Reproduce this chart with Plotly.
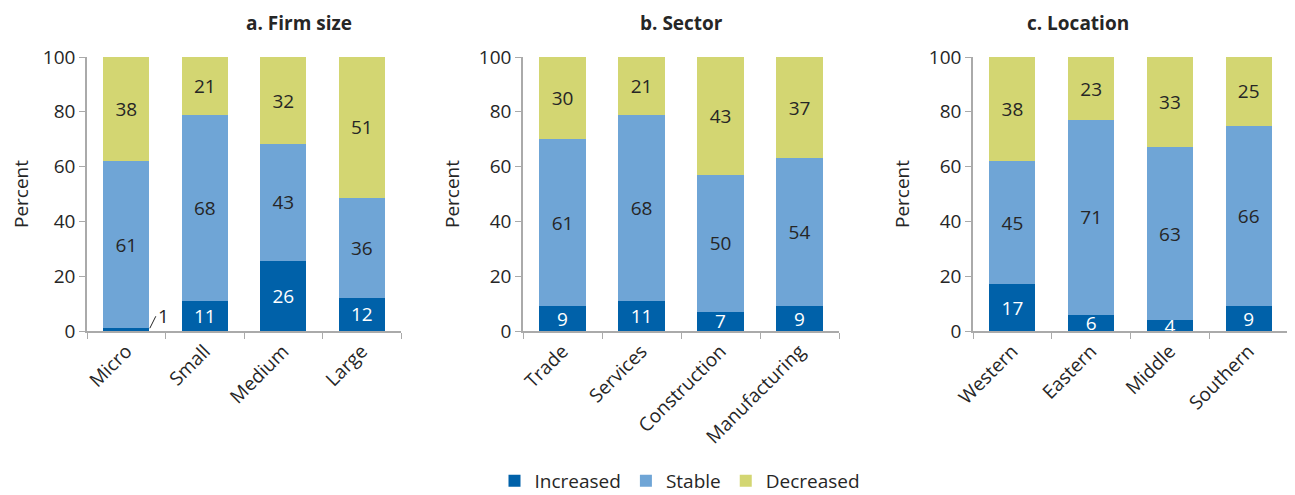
import plotly.graph_objects as go
from plotly.subplots import make_subplots

panel_titles = ["a. Firm size", "b. Sector", "c. Location"]
size_cats = ["Micro", "Small", "Medium", "Large"]
size_inc = [1, 11, 25.6, 12.2]
size_sta = [61, 68, 42.6, 36.4]
size_dec = [38, 21, 31.8, 51.4]

sector_cats = ["Trade", "Services", "Construction", "Manufacturing"]
sector_inc = [9, 11, 7, 9]
sector_sta = [61, 68, 50, 54]
sector_dec = [30, 21, 43, 37]

loc_cats = ["Western", "Eastern", "Middle", "Southern"]
loc_inc = [17, 6, 4, 9]
loc_sta = [45, 71, 63, 66]
loc_dec = [38, 23, 33, 25]

series_names = ["Increased", "Stable", "Decreased"]
colors = ["#0061a9", "#6fa5d6", "#d3d672"]
text_colors = ["white", "#262626", "#262626"]
y_ticks = [0, 20, 40, 60, 80, 100]

FONT = "Open Sans"
FS = 19
W, H = 1295, 495
OFF = 8  # page body margin
panels = [
    (size_cats, [size_inc, size_sta, size_dec]),
    (sector_cats, [sector_inc, sector_sta, sector_dec]),
    (loc_cats, [loc_inc, loc_sta, loc_dec]),
]

fig = make_subplots(rows=1, cols=3)

for p, (cats, series) in enumerate(panels):
    for s, vals in enumerate(series):
        labels = [f"{v:.0f}" for v in vals]
        if p == 0 and s == 0:
            labels[0] = ""  # tiny value labelled outside with leader line
        fig.add_trace(
            go.Bar(
                x=cats, y=vals, name=series_names[s],
                marker=dict(color=colors[s], line=dict(width=0)),
                text=labels, textposition="inside", insidetextanchor="middle",
                textangle=0, textfont=dict(color=text_colors[s], size=FS, family=FONT),
                showlegend=(p == 0), legendgroup=series_names[s],
                hoverinfo="skip",
            ),
            row=1, col=p + 1,
        )

px_x = [(87, 401), (523, 839), (973, 1288)]
domains_x = [((a - OFF) / W, (b - OFF) / W) for a, b in px_x]
ydom = (1 - (331 - OFF) / H, 1 - (57 - OFF) / H)
for i in range(3):
    xa = "xaxis" if i == 0 else f"xaxis{i+1}"
    ya = "yaxis" if i == 0 else f"yaxis{i+1}"
    fig.layout[xa].update(
        domain=domains_x[i], showline=True, linecolor="#aaaaaa", linewidth=1.5,
        ticks="outside", tickson="boundaries", ticklen=6, tickcolor="#aaaaaa",
        tickangle=-45, tickfont=dict(size=FS, family=FONT, color="#262626"),
        showgrid=False, zeroline=False, automargin=False,
    )
    fig.layout[ya].update(
        domain=ydom, range=[0, 100], tickvals=y_ticks, showline=True,
        linecolor="#aaaaaa", linewidth=1.5, ticks="outside", ticklen=6,
        tickcolor="#aaaaaa", tickfont=dict(size=FS, family=FONT, color="#262626"),
        showgrid=False, zeroline=False, automargin=False,
        title=dict(text="Percent", font=dict(size=FS, family=FONT, color="#262626"), standoff=14),
    )
    fig.add_annotation(
        text=f"<b>{panel_titles[i]}</b>", xref="paper", yref="paper",
        x=sum(domains_x[i]) / 2, y=1, showarrow=False,
        font=dict(size=FS, family=FONT, color="#262626"), yanchor="top",
    )

# Leader-line label for Micro "Increased"
fig.add_annotation(
    x=0.3, y=size_inc[0], xref="x", yref="y", text=f"{size_inc[0]:.0f}",
    showarrow=True, arrowhead=0, arrowwidth=1, arrowcolor="#262626",
    ax=6, ay=-12, xanchor="left", yanchor="middle",
    font=dict(size=FS, family=FONT, color="#262626"),
)

fig.update_layout(
    width=W, height=H, barmode="stack", bargap=0.414,
    margin=dict(l=0, r=0, t=0, b=0, autoexpand=False),
    plot_bgcolor="white", paper_bgcolor="white",
    font=dict(family=FONT, size=FS, color="#262626"),
    legend=dict(orientation="h", x=(680 - OFF) / W, xanchor="center", yref="container",
                y=1 - (462 - OFF) / H, yanchor="top",
                font=dict(size=FS, family=FONT), itemwidth=30, traceorder="normal"),
    uniformtext=dict(minsize=FS, mode="show"),
)

fig.write_html("out.html")
